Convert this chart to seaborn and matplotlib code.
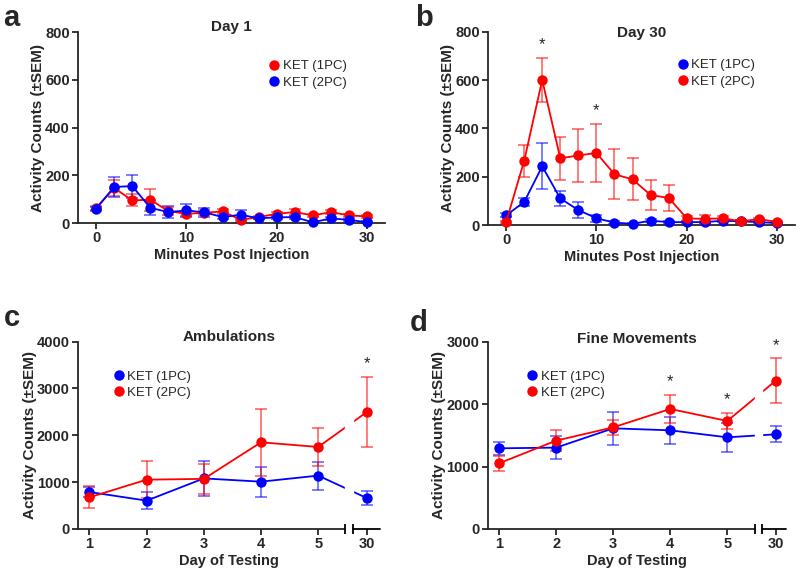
import pandas as pd
import matplotlib
matplotlib.use('Agg')
from matplotlib import pyplot as plt
from matplotlib.lines import Line2D
import seaborn as sns

RED = '#ff0000'
BLUE = '#0000ff'

# panels a / b: activity every 2 min after injection
minutes = list(range(0, 31, 2))

day1_1pc = [63, 147, 95, 98, 50, 39, 43, 49, 14, 25, 39, 46, 32, 46, 32, 28]
day1_1pc_sem = [8, 32, 25, 46, 17, 10, 10, 8, 8, 6, 8, 14, 6, 8, 6, 6]
day1_2pc = [60, 151, 155, 64, 46, 53, 45, 25, 35, 20, 24, 25, 3, 20, 13, 4]
day1_2pc_sem = [8, 42, 48, 31, 25, 28, 19, 8, 21, 5, 6, 6, 4, 6, 5, 3]

day30_1pc = [40, 95, 243, 110, 62, 28, 10, 5, 18, 12, 12, 12, 18, 15, 12, 8]
day30_1pc_sem = [8, 15, 95, 32, 35, 15, 5, 4, 6, 4, 4, 5, 6, 5, 4, 4]
day30_2pc = [12, 265, 600, 276, 288, 298, 210, 189, 124, 112, 28, 25, 28, 15, 25, 12]
day30_2pc_sem = [5, 67, 93, 90, 108, 122, 104, 87, 61, 54, 10, 16, 8, 5, 6, 5]
day30_sig = [4, 10]

# panels c / d: day of testing
days = ['1', '2', '3', '4', '5', '30']
day_pos = [1, 2, 3, 4, 5, 5.85]

amb_1pc = [790, 605, 1080, 1010, 1140, 660]
amb_1pc_sem = [115, 175, 375, 320, 300, 155]
amb_2pc = [676, 1053, 1070, 1851, 1751, 2498]
amb_2pc_sem = [235, 400, 320, 710, 400, 755]
amb_sig = ['30']

fine_1pc = [1292, 1303, 1612, 1580, 1468, 1516]
fine_1pc_sem = [100, 187, 260, 220, 230, 130]
fine_2pc = [1052, 1415, 1628, 1922, 1730, 2376]
fine_2pc_sem = [120, 165, 115, 225, 135, 355]
fine_sig = ['4', '5', '30']


def draw_group(ax, x, y, sem, color):
    df = pd.DataFrame({'x': x, 'y': y})
    ax.errorbar(x, y, yerr=sem, fmt='none', ecolor=color, alpha=0.6, elinewidth=1.2,
                capsize=4, capthick=1.2, clip_on=False, zorder=2)
    sns.lineplot(data=df, x='x', y='y', ax=ax, color=color, marker='o', markersize=7.5,
                 markeredgewidth=0, linewidth=1.3, sort=False, clip_on=False, zorder=3,
                 legend=False)


def add_stars(ax, x, y, sem, sig):
    for xi, yi, ei, s in zip(x, y, sem, sig):
        if s:
            ax.annotate('*', (xi, yi + ei), xytext=(0, 4), textcoords='offset points',
                        ha='center', va='bottom', fontsize=12, fontweight='normal')


def add_legend(ax, colors, labels, anchor):
    handles = [Line2D([0], [0], marker='o', color=c, linestyle='none', markersize=7.5,
                      markeredgewidth=0) for c in colors]
    ax.legend(handles, labels, loc='upper left', bbox_to_anchor=anchor, frameon=False,
              handletextpad=0.15, handlelength=1.0, labelspacing=0.3, borderaxespad=0,
              prop={'weight': 'normal', 'size': 9.5})


def style_axes(ax, ylim, yticks, xlabel, title, title_y):
    sns.despine(ax=ax)
    ax.set_ylim(ylim)
    ax.set_yticks(yticks)
    ax.tick_params(length=4, width=1.3, pad=2, labelsize=10.5)
    for s in ['left', 'bottom']:
        ax.spines[s].set_linewidth(1.3)
    ax.set_ylabel('Activity Counts (±SEM)', fontsize=11, labelpad=0)
    ax.set_xlabel(xlabel, fontsize=10.5, labelpad=2)
    ax.text(0.5, title_y, title, transform=ax.transAxes, ha='center', va='center',
            fontsize=11, fontweight='bold')


def break_axis(ax, lo, hi, xmax):
    ax.spines['bottom'].set_bounds(ax.get_xlim()[0], lo)
    ax.plot([hi, xmax], [0, 0], color='black', lw=1.3, clip_on=False, zorder=6)
    ax.plot([lo, hi], [0, 0], color='black', marker='|', markersize=7, markeredgewidth=1.3,
            linestyle='none', clip_on=False, zorder=6)
    ax.axvspan(lo, hi, ymin=0.005, color='white', zorder=5)


sns.set_style('ticks')
plt.rcParams['font.family'] = ['Liberation Sans', 'DejaVu Sans']
plt.rcParams['font.weight'] = 'bold'
plt.rcParams['axes.labelweight'] = 'bold'

fig = plt.figure(figsize=(8, 5.72), dpi=100)
ax_a = fig.add_axes([0.0975, 0.610, 0.384, 0.334])
ax_b = fig.add_axes([0.610, 0.6066, 0.384, 0.338])
ax_c = fig.add_axes([0.0975, 0.0752, 0.3775, 0.3275])
ax_d = fig.add_axes([0.6096, 0.0752, 0.373, 0.3275])

# a: Day 1
draw_group(ax_a, minutes, day1_1pc, day1_1pc_sem, RED)
draw_group(ax_a, minutes, day1_2pc, day1_2pc_sem, BLUE)
ax_a.set_xlim(-2, 32)
ax_a.set_xticks([0, 10, 20, 30])
style_axes(ax_a, (0, 800), [0, 200, 400, 600, 800], 'Minutes Post Injection', 'Day 1', 1.025)
add_legend(ax_a, [RED, BLUE], ['KET (1PC)', 'KET (2PC)'], (0.6, 0.88))

# b: Day 30
draw_group(ax_b, minutes, day30_1pc, day30_1pc_sem, BLUE)
draw_group(ax_b, minutes, day30_2pc, day30_2pc_sem, RED)
ax_b.set_xlim(-2, 32)
ax_b.set_xticks([0, 10, 20, 30])
style_axes(ax_b, (0, 800), [0, 200, 400, 600, 800], 'Minutes Post Injection', 'Day 30', 0.995)
add_stars(ax_b, minutes, day30_2pc, day30_2pc_sem, [m in day30_sig for m in minutes])
add_legend(ax_b, [BLUE, RED], ['KET (1PC)', 'KET (2PC)'], (0.595, 0.885))

# c: Ambulations
draw_group(ax_c, day_pos, amb_1pc, amb_1pc_sem, BLUE)
draw_group(ax_c, day_pos, amb_2pc, amb_2pc_sem, RED)
ax_c.set_xlim(0.8, 6.08)
ax_c.set_xticks(day_pos, days)
style_axes(ax_c, (0, 4000), [0, 1000, 2000, 3000, 4000], 'Day of Testing', 'Ambulations', 1.027)
break_axis(ax_c, 5.47, 5.6, 6.08)
add_stars(ax_c, day_pos, amb_2pc, amb_2pc_sem, [d in amb_sig for d in days])
add_legend(ax_c, [BLUE, RED], ['KET (1PC)', 'KET (2PC)'], (0.095, 0.875))

# d: Fine Movements
draw_group(ax_d, day_pos, fine_1pc, fine_1pc_sem, BLUE)
draw_group(ax_d, day_pos, fine_2pc, fine_2pc_sem, RED)
ax_d.set_xlim(0.8, 6.03)
ax_d.set_xticks(day_pos, days)
style_axes(ax_d, (0, 3000), [0, 1000, 2000, 3000], 'Day of Testing', 'Fine Movements', 1.014)
break_axis(ax_d, 5.48, 5.6, 6.03)
add_stars(ax_d, day_pos, fine_2pc, fine_2pc_sem, [d in fine_sig for d in days])
add_legend(ax_d, [BLUE, RED], ['KET (1PC)', 'KET (2PC)'], (0.11, 0.875))

for lbl, (px, py) in zip('abcd', [(11, 18), (424, 18), (12, 318), (419, 323)]):
    fig.text(px / 800, 1 - py / 572, lbl, fontsize=21, fontweight='bold', ha='center', va='center')

plt.savefig('out.png', dpi=100)
